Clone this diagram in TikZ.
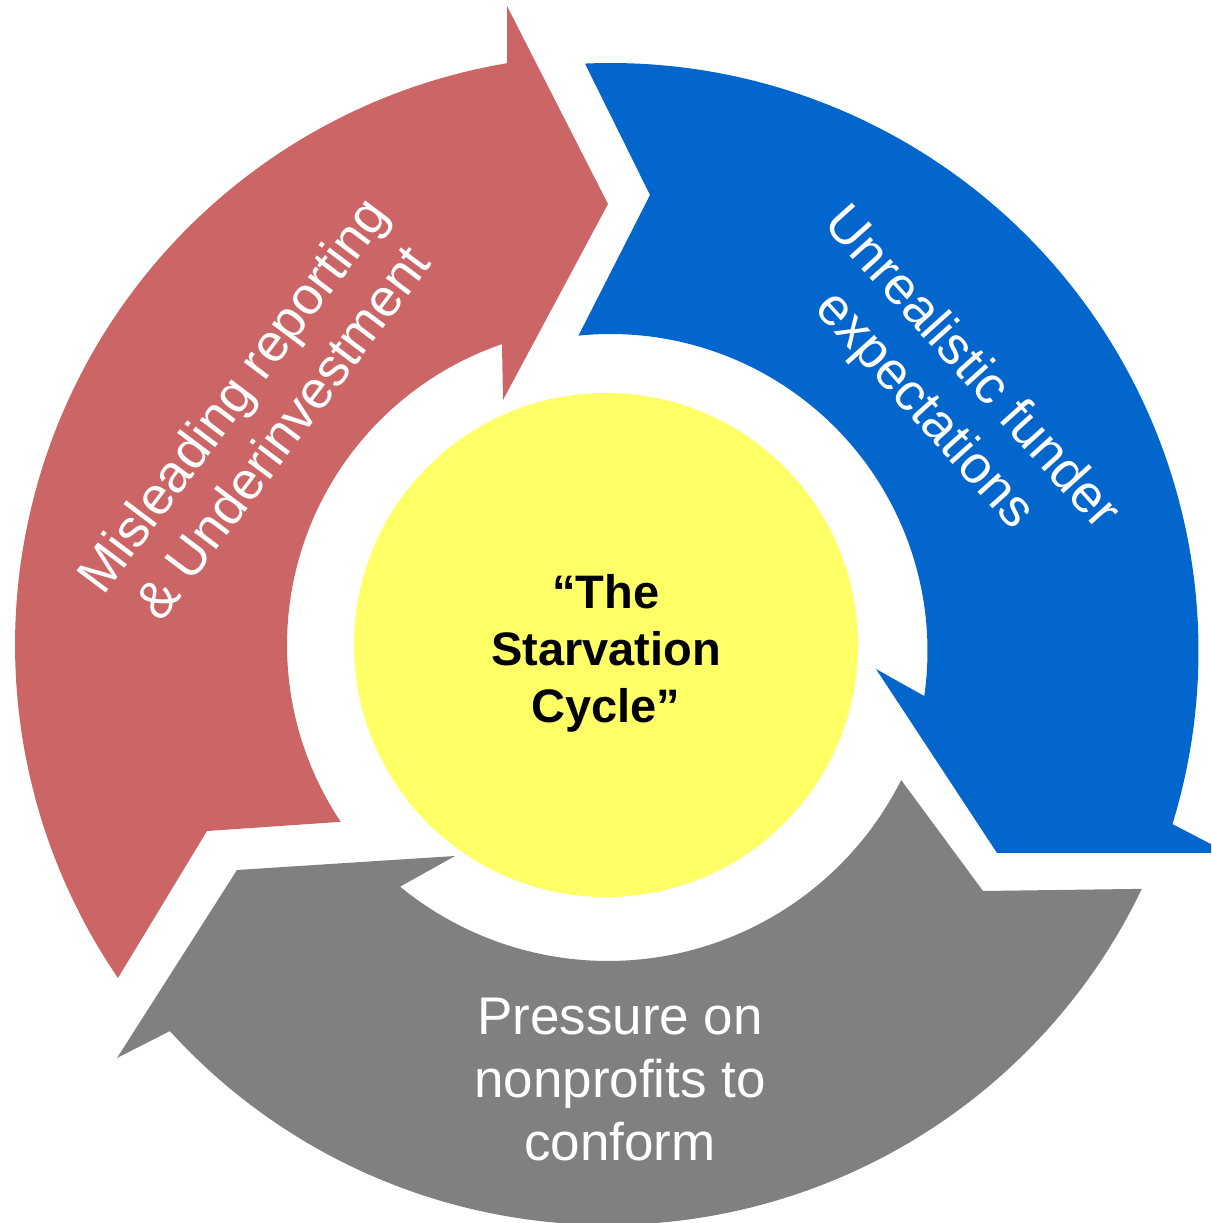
\documentclass[tikz,border=0pt]{standalone}
\usepackage{fontspec}
\setmainfont{Liberation Sans}
\usetikzlibrary{calc}
\definecolor{arrowred}{HTML}{CC6666}
\definecolor{arrowblue}{HTML}{0366CC}
\definecolor{arrowgray}{HTML}{808080}
\definecolor{hubyellow}{HTML}{FFFF66}

\begin{document}
\begin{tikzpicture}[x=1pt,y=1pt,
  bandtext/.style={text=white, align=center, inner sep=0pt,
    font=\fontsize{53}{63}\selectfont},
  hubfont/.style={text=black, align=center, inner sep=0pt,
    font=\fontsize{47}{57}\selectfont\bfseries},
  hubdisc/.style={circle, fill=hubyellow, draw=none, inner sep=0pt, minimum size=504}]
\useasboundingbox (0,0) rectangle (1211,1223);
\clip (0,0) rectangle (1211,1223);

% three curved block arrows running clockwise round the ring
\coordinate (cR) at (605,578);
\coordinate (cB) at (610.5,572);
\coordinate (cG) at (608,590);

% left arrow, rising to the top
\fill[arrowred] ($(cR)+(214.36:590)$) arc[start angle=214.36, end angle=99.56, radius=590]
  -- (507,1217) -- (608,1019) -- (503,823)
  -- ($(cR)+(108.9:318)$) arc[start angle=108.9, end angle=213.79, radius=318]
  -- (207,392) -- cycle;

% right arrow, running down the right side
\fill[arrowblue] ($(cB)+(92.49:588)$) arc[start angle=92.49, end angle=-17.12, radius=588]
  -- (1228,370) -- (997,370) -- (876,554)
  -- ($(cB)+(-8.17:317)$) arc[start angle=-8.17, end angle=95.8, radius=317]
  -- (650,1028) -- cycle;

% bottom arrow, running leftwards
\fill[arrowgray] ($(cG)+(-25.61:592)$) arc[start angle=-25.61, end angle=-137.74, radius=592]
  -- (117,165) -- (237,353) -- (455,367)
  -- ($(cG)+(-129.34:328)$) arc[start angle=-129.34, end angle=-26.64, radius=328]
  -- (983,332) -- cycle;

% central disc and labels
\node[hubdisc] (hub) at (606,578) {};
\node[hubfont] (hublabel) at (606,570) {“The\\Starvation\\Cycle”};

\node[bandtext, rotate=53] (redlabel) at (257,810) {Misleading reporting\\\& Underinvestment};
\node[bandtext, rotate=-48] (bluelabel) at (947,833) {Unrealistic funder\\expectations};
\node[bandtext] (graylabel) at (620,143) {Pressure on\\nonprofits to\\conform};
\end{tikzpicture}
\end{document}
